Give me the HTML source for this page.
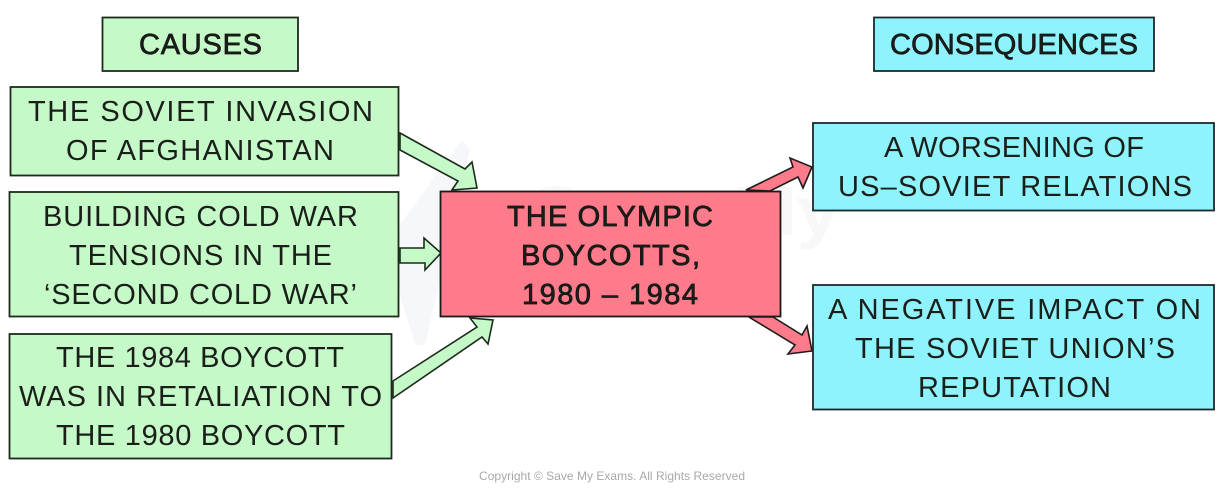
<!DOCTYPE html>
<html>
<head>
<meta charset="utf-8">
<style>
html,body{margin:0;padding:0;background:#fff;width:1226px;height:488px;overflow:hidden}
svg{display:block}
text{font-family:"Liberation Sans",sans-serif;font-size:29px;fill:#1a1f1a}
.b{stroke:#111;stroke-width:.7px}
</style>
</head>
<body>
<svg width="1226" height="488" viewBox="0 0 1226 488" xmlns="http://www.w3.org/2000/svg">
<rect width="1226" height="488" fill="#fff"/>
<polygon points="385,245 462,140 470,150 425,345 415,345" fill="#f6f7fb"/>
<text x="530" y="235" style="font-size:70px;font-weight:bold;fill:#f8f8f9" textLength="310" lengthAdjust="spacingAndGlyphs">Save My</text>
<text x="540" y="312" style="font-size:70px;font-weight:bold;fill:#f8f8f9" textLength="240" lengthAdjust="spacingAndGlyphs">Exams</text>

<g stroke="#1c2a1c" stroke-width="1.600" stroke-linejoin="miter" fill="#c6f9c8">
<polygon points="400,133 465,169 472,162 477,188 452,190 458,181 400,150"/>
<polygon points="400,248 424,248 424,238 441,253 425,270 425,263 400,263"/>
<polygon points="393,381 477,327 470,318 493,320 488,344 482,337 393,398"/>
</g>
<g stroke="#1c1c1c" stroke-width="1.600" fill="#fd7b8a">
<polygon points="746,190 793,167 790,158 812,167 803,188 798,177 770,191"/>
<polygon points="749,317 773,317 802,335 807,326 812,351 788,354 795,345"/>
</g>

<g stroke="#1f2a1f" stroke-width="1.800" fill="#c6f9c8">
<rect x="102.500" y="17.500" width="195.500" height="53.500"/>
<rect x="10.500" y="87" width="388" height="88.500"/>
<rect x="9.500" y="192" width="389" height="124.500"/>
<rect x="9.500" y="334" width="382" height="124.500"/>
</g>
<rect x="440.500" y="191.500" width="340" height="125" fill="#fd7b8a" stroke="#1a1a1a" stroke-width="1.800"/>
<g stroke="#1a2a2a" stroke-width="1.800" fill="#8ff3fd">
<rect x="874" y="17.500" width="280" height="53.500"/>
<rect x="813" y="123" width="401" height="87.500"/>
<rect x="813" y="285" width="401" height="124.500"/>
</g>

<text class="b" x="139" y="54" textLength="123">CAUSES</text>
<text x="28" y="121" textLength="345">THE SOVIET INVASION</text>
<text x="66" y="160" textLength="268">OF AFGHANISTAN</text>
<text x="43" y="226" textLength="315">BUILDING COLD WAR</text>
<text x="69" y="265" textLength="263">TENSIONS IN THE</text>
<text x="44" y="304" textLength="313">‘SECOND COLD WAR’</text>
<text x="56" y="367" textLength="288">THE 1984 BOYCOTT</text>
<text x="19" y="406" textLength="363">WAS IN RETALIATION TO</text>
<text x="56" y="445" textLength="289">THE 1980 BOYCOTT</text>

<text class="b" x="507" y="226" textLength="206">THE OLYMPIC</text>
<text class="b" x="521" y="265" textLength="179">BOYCOTTS,</text>
<text class="b" x="522" y="304" textLength="176">1980 – 1984</text>

<text class="b" x="890" y="54" textLength="248">CONSEQUENCES</text>
<text x="884" y="157" textLength="260">A WORSENING OF</text>
<text x="838" y="196" textLength="354">US–SOVIET RELATIONS</text>
<text x="828" y="319" textLength="373">A NEGATIVE IMPACT ON</text>
<text x="855" y="358" textLength="320">THE SOVIET UNION’S</text>
<text x="918" y="397" textLength="193">REPUTATION</text>

<text x="479" y="480" style="font-size:12px;fill:#a8a8a8" textLength="266">Copyright © Save My Exams. All Rights Reserved</text>
</svg>
</body>
</html>
